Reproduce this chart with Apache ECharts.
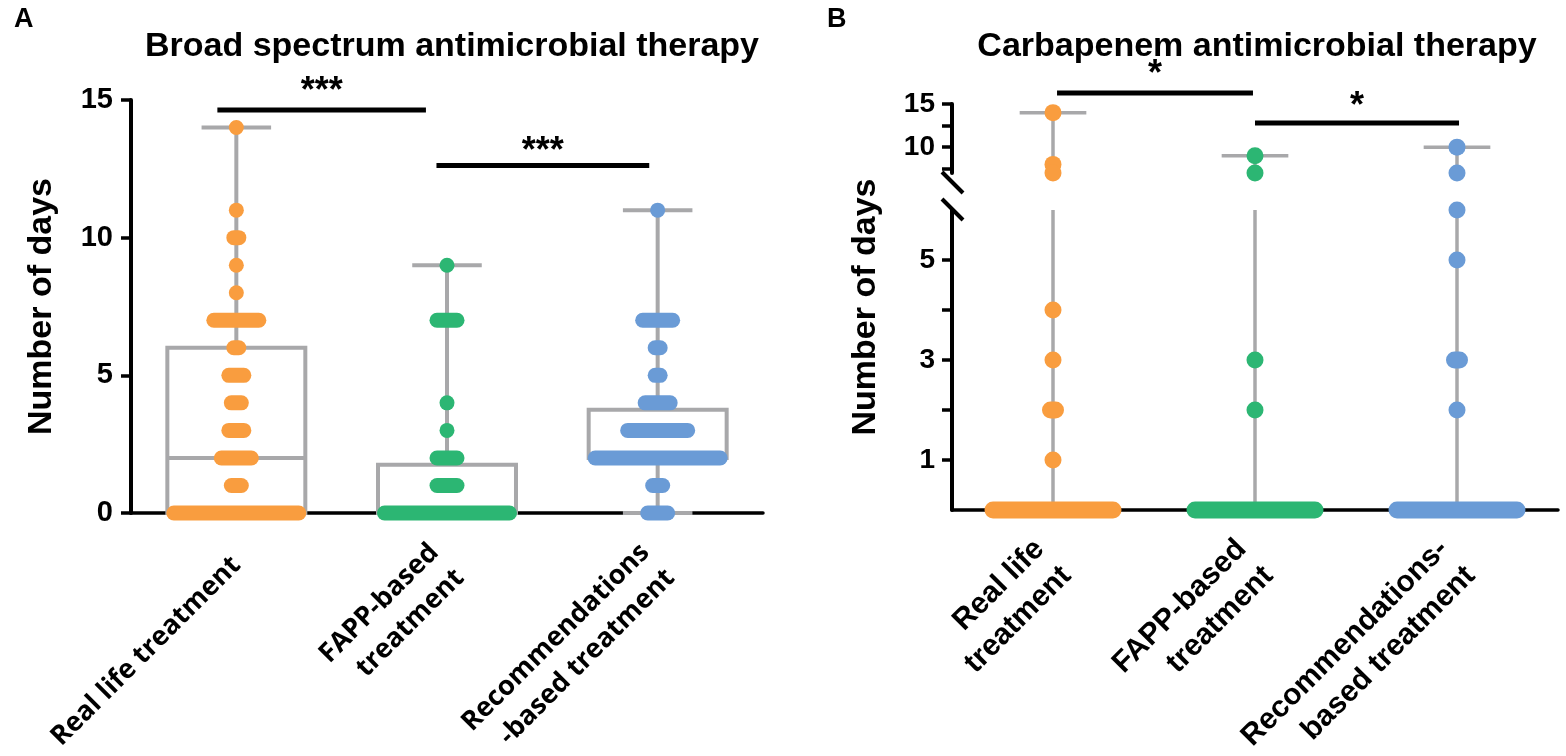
<!DOCTYPE html>
<html><head><meta charset="utf-8">
<script src="https://cdn.jsdelivr.net/npm/echarts@6/dist/echarts.min.js"></script>
<style>html,body{margin:0;padding:0;background:#fff}#c{width:1566px;height:756px}</style>
</head><body><div id="c"></div>
<script>
// ---------- data ----------
const groupsA = ['Real life treatment', 'FAPP-based\ntreatment', 'Recommendations\n-based treatment'];
const groupsB = ['Real life\ntreatment', 'FAPP-based\ntreatment', 'Recommendations-\nbased treatment'];
const groupIdx = [0, 1, 2];
const yTicksA = [0, 5, 10, 15];
const yTicksBLow = [1, 2, 3, 4, 5];
const yLabelsBLow = [1, 3, 5];
const yTicksBUp = [7.5, 10, 12.5, 15];
const yLabelsBUp = [10, 15];

// panel A dots: [days, number of stacked points]
const broadReal = [[14,1],[11,1],[10,2],[9,1],[8,1],[7,10],[6,2],[5,4],[4,3],[3,4],[2,7],[1,3],[0,26]];
const broadFapp = [[9,1],[7,5],[4,1],[3,1],[2,5],[1,5],[0,26]];
const broadRec  = [[11,1],[7,7],[6,2],[5,2],[4,6],[3,13],[2,26],[1,3],[0,5]];
// panel A box: [min, q1, median, q3, max]
const broadBox = [[0,0,2,6,14],[0,0,0,1.75,9],[0,2,2,3.75,11]];

// panel B dots
const carbaReal = [[14,1],[8,1],[7,1],[4,1],[3,1],[2,2],[1,1],[0,25]];
const carbaFapp = [[9,1],[7,1],[3,1],[2,1],[0,25]];
const carbaRec  = [[10,1],[7,1],[6,1],[5,1],[3,2],[2,1],[0,25]];
// panel B range: [min, max]
const carbaRange = [[0,14],[0,9],[0,10]];

// significance bars: [fromGroup, toGroup, barY, labelY, label]
const sigA = [[-0.09, 0.9, 14.64, 15.3, '***'], [0.95, 1.96, 12.62, 13.1, '***']];
const sigB = [[0.02, 0.99, 16.28, 18.3, '*'], [1.0, 2.01, 12.8, 14.6, '*']];

// ---------- style ----------
const colors = ['#F99D3F', '#2CB673', '#6A9BD6'];
const gray = '#A8A8AA';
const FONT = "'Liberation Sans', Arial, sans-serif";
const FONT2 = "'Open Sans', sans-serif";
const gA = {left: 131, top: 100, width: 632, height: 413, outerBoundsMode: 'none', containLabel: false};
const gBlow = {left: 952, top: 210, width: 606, height: 300, outerBoundsMode: 'none', containLabel: false};
const gBup = {left: 952, top: 104, width: 606, height: 69, outerBoundsMode: 'none', containLabel: false};
const BLOW = [0, 6], BUP = [7, 15];

function pillRenderer(D, S) {
  return function (params, api) {
    const g = api.value(0), v = api.value(1), n = api.value(2);
    const c = api.coord([g, v]);
    const w = D + (n - 1) * S;
    return {type: 'rect', shape: {x: c[0] - w / 2, y: c[1] - D / 2, width: w, height: D, r: D / 2},
      style: {fill: colors[g]}};
  };
}
function dotData(groups) {
  const out = [];
  groups.forEach((arr, g) => arr.forEach(d => out.push([g, d[0], d[1]])));
  return out;
}
function line(x1, y1, x2, y2, w) {
  return {type: 'line', shape: {x1, y1, x2, y2}, style: {stroke: gray, lineWidth: w}};
}
function boxRender(params, api) {
  const g = api.value(0);
  const mn = api.coord([g, api.value(1)]), q1 = api.coord([g, api.value(2)]);
  const md = api.coord([g, api.value(3)]), q3 = api.coord([g, api.value(4)]);
  const mx = api.coord([g, api.value(5)]);
  const bw = api.size([0.655, 0])[0], cw = api.size([0.33, 0])[0];
  const x = mn[0], lw = 4;
  const ch = [
    {type: 'rect', shape: {x: x - bw / 2, y: q3[1], width: bw, height: q1[1] - q3[1]},
      style: {fill: 'none', stroke: gray, lineWidth: lw}},
    line(x - bw / 2, md[1], x + bw / 2, md[1], lw),
    line(x, q3[1], x, mx[1], lw),
    line(x, q1[1], x, mn[1], lw),
    line(x - cw / 2, mx[1], x + cw / 2, mx[1], lw),
    line(x - cw / 2, mn[1], x + cw / 2, mn[1], lw)
  ];
  return {type: 'group', children: ch};
}
function rangeRender(lo, hi, capMax) {
  return function (params, api) {
    const g = api.value(0), a = Math.max(api.value(1), lo), b = Math.min(api.value(2), hi);
    if (a > b) return null;
    const p1 = api.coord([g, a]), p2 = api.coord([g, b]);
    const cw = api.size([0.33, 0])[0];
    const ch = [line(p1[0], p1[1], p2[0], p2[1], 3.5)];
    if (capMax && api.value(2) <= hi) ch.push(line(p2[0] - cw / 2, p2[1], p2[0] + cw / 2, p2[1], 3.5));
    return {type: 'group', children: ch};
  };
}
function sigRender(fs) {
  return function (params, api) {
    const a = api.coord([api.value(0), api.value(2)]), b = api.coord([api.value(1), api.value(2)]);
    const t = api.coord([(api.value(0) + api.value(1)) / 2, api.value(3)]);
    return {type: 'group', children: [
      {type: 'rect', shape: {x: a[0], y: a[1] - 2.5, width: b[0] - a[0], height: 5}, style: {fill: '#000'}},
      {type: 'text', x: t[0], y: t[1], style: {text: api.value(4), fill: '#000', font: 'bold ' + fs + 'px ' + FONT,
        align: 'center', verticalAlign: 'middle'}}
    ]};
  };
}

const tickLab = {color: '#000', fontFamily: FONT, fontWeight: 'bold', fontSize: 29, margin: 18};
const axisLineS = {show: true, onZero: false, lineStyle: {color: '#000', width: 4}};
const tickS = {show: true, length: 10, lineStyle: {color: '#000', width: 3.5}};

const option = {
  animation: false,
  title: [
    {text: 'A', left: 9, top: 1, textStyle: {fontSize: 27, fontWeight: 'bold', fontFamily: FONT, color: '#000'}},
    {text: 'B', left: 822, top: 1, textStyle: {fontSize: 27, fontWeight: 'bold', fontFamily: FONT, color: '#000'}},
    {text: 'Broad spectrum antimicrobial therapy', left: 447, textAlign: 'center', top: 25,
      textStyle: {fontSize: 34, fontWeight: 'bold', fontFamily: FONT, color: '#000'}},
    {text: 'Carbapenem antimicrobial therapy', left: 1252, textAlign: 'center', top: 25,
      textStyle: {fontSize: 34, fontWeight: 'bold', fontFamily: FONT, color: '#000'}}
  ],
  grid: [gA, gBlow, gBup],
  xAxis: [
    {gridIndex: 0, type: 'value', min: -0.5, max: 2.5, splitLine: {show: false},
      axisLine: {show: true, onZero: false, lineStyle: {color: '#000', width: 3.5}},
      axisTick: Object.assign({customValues: groupIdx}, tickS, {length: 7}),
      axisLabel: {customValues: groupIdx, formatter: v => groupsA[Math.round(v)], rotate: 45, margin: 48,
        color: '#000', fontFamily: FONT2, fontWeight: 'bold', fontSize: 27, lineHeight: 36}},
    {gridIndex: 1, type: 'value', min: -0.5, max: 2.5, splitLine: {show: false},
      axisLine: {show: true, onZero: false, lineStyle: {color: '#000', width: 3.5}},
      axisTick: Object.assign({customValues: groupIdx}, tickS, {length: 7}),
      axisLabel: {customValues: groupIdx, formatter: v => groupsB[Math.round(v)], rotate: 45, margin: 48,
        color: '#000', fontFamily: FONT, fontWeight: 'bold', fontSize: 30, lineHeight: 38}},
    {gridIndex: 2, type: 'value', min: -0.5, max: 2.5, show: false}
  ],
  yAxis: [
    {gridIndex: 0, type: 'value', min: 0, max: 15, interval: 5, splitLine: {show: false},
      axisLine: axisLineS, axisTick: tickS, axisLabel: tickLab,
      name: 'Number of days', nameLocation: 'middle', nameGap: 72,
      nameTextStyle: {color: '#000', fontFamily: FONT, fontWeight: 'bold', fontSize: 34}},
    {gridIndex: 1, type: 'value', min: BLOW[0], max: BLOW[1], splitLine: {show: false},
      axisLine: axisLineS, axisTick: Object.assign({customValues: yTicksBLow}, tickS),
      axisLabel: Object.assign({customValues: yLabelsBLow}, tickLab, {fontSize: 28, margin: 17})},
    {gridIndex: 2, type: 'value', min: BUP[0], max: BUP[1], splitLine: {show: false},
      axisLine: axisLineS, axisTick: Object.assign({customValues: yTicksBUp}, tickS),
      axisLabel: Object.assign({customValues: yLabelsBUp}, tickLab, {fontSize: 28, margin: 17})}
  ],
  series: [
    {type: 'custom', name: 'boxA', xAxisIndex: 0, yAxisIndex: 0, clip: false, renderItem: boxRender,
      encode: {x: 0, y: [1, 2, 3, 4, 5]}, data: broadBox.map((b, g) => [g].concat(b))},
    {type: 'custom', name: 'dotsA', xAxisIndex: 0, yAxisIndex: 0, clip: false, renderItem: pillRenderer(15, 5),
      encode: {x: 0, y: 1}, data: dotData([broadReal, broadFapp, broadRec])},
    {type: 'custom', name: 'sigA', xAxisIndex: 0, yAxisIndex: 0, clip: false, renderItem: sigRender(36),
      encode: {x: 0, y: 2}, data: sigA},
    {type: 'custom', name: 'rangeBlow', xAxisIndex: 1, yAxisIndex: 1, clip: false,
      renderItem: rangeRender(BLOW[0], BLOW[1], false), encode: {x: 0, y: [1, 2]},
      data: carbaRange.map((r, g) => [g].concat(r))},
    {type: 'custom', name: 'rangeBup', xAxisIndex: 2, yAxisIndex: 2, clip: false,
      renderItem: rangeRender(BUP[0], BUP[1], true), encode: {x: 0, y: [1, 2]},
      data: carbaRange.map((r, g) => [g].concat(r))},
    {type: 'custom', name: 'dotsBlow', xAxisIndex: 1, yAxisIndex: 1, clip: false, renderItem: pillRenderer(17, 5),
      encode: {x: 0, y: 1}, data: dotData([carbaReal, carbaFapp, carbaRec]).filter(d => d[1] <= BLOW[1])},
    {type: 'custom', name: 'dotsBup', xAxisIndex: 2, yAxisIndex: 2, clip: false, renderItem: pillRenderer(17, 5),
      encode: {x: 0, y: 1}, data: dotData([carbaReal, carbaFapp, carbaRec]).filter(d => d[1] >= BUP[0])},
    {type: 'custom', name: 'sigB', xAxisIndex: 2, yAxisIndex: 2, clip: false, renderItem: sigRender(36),
      encode: {x: 0, y: 2}, data: sigB}
  ],
  graphic: [
    {type: 'text', x: 866, y: 307, rotation: Math.PI / 2,
      style: {text: 'Number of days', font: 'bold 34px ' + FONT, fill: '#000', align: 'center', verticalAlign: 'middle'}},
    {type: 'line', shape: {x1: gBlow.left - 10, y1: gBup.top + gBup.height - 1, x2: gBlow.left + 11, y2: gBup.top + gBup.height + 20},
      style: {stroke: '#000', lineWidth: 4}},
    {type: 'line', shape: {x1: gBlow.left - 10, y1: gBlow.top - 11, x2: gBlow.left + 11, y2: gBlow.top + 10},
      style: {stroke: '#000', lineWidth: 4}}
  ]
};
const chart = echarts.init(document.getElementById('c'), null, {renderer: 'canvas'});
chart.setOption(option);
</script></body></html>
